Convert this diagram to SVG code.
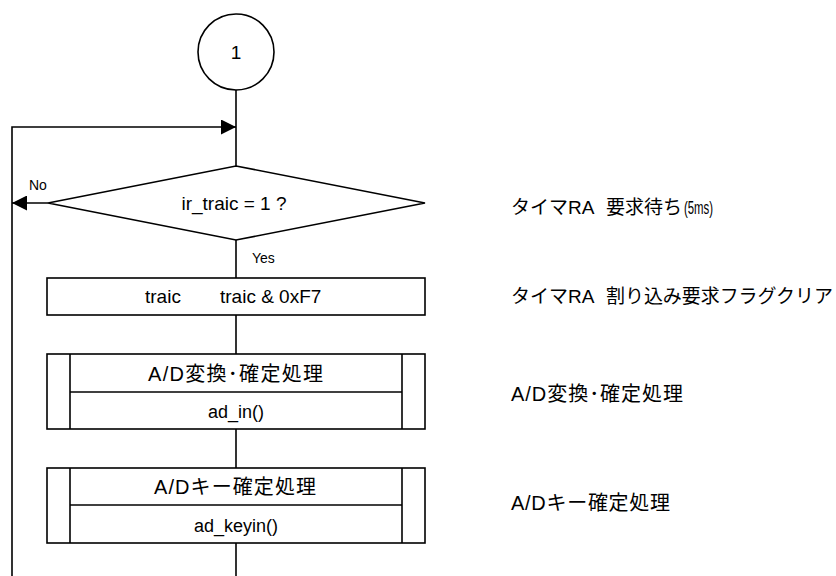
<svg xmlns="http://www.w3.org/2000/svg" width="836" height="576" viewBox="0 0 836 576">
<defs>
<marker id="arr" viewBox="0 0 10 10" refX="10" refY="5" markerWidth="17" markerHeight="15" markerUnits="userSpaceOnUse" orient="auto">
<path d="M0,0 L10,5 L0,10 Z" fill="#000"/>
</marker>
<style>
.s{fill:#fff;stroke:#000;stroke-width:1.6}
.l{fill:none;stroke:#000;stroke-width:1.6}
.t{font-family:"Liberation Sans","Noto Sans CJK JP",sans-serif;font-size:19px;fill:#000}
.c{text-anchor:middle}
.sm{font-size:14px}
.f{font-size:18px}
.j{font-size:20px}
</style>
</defs>
<rect width="836" height="576" fill="#fff"/>
<g id="connectors">
<line class="l" x1="236" y1="90" x2="236" y2="166"/>
<polyline class="l" points="12,576 12,127 236,127" marker-end="url(#arr)"/>
<line class="l" x1="48" y1="203" x2="12" y2="203" marker-end="url(#arr)"/>
<line class="l" x1="236" y1="240" x2="236" y2="278"/>
<line class="l" x1="236" y1="315" x2="236" y2="354"/>
<line class="l" x1="236" y1="429" x2="236" y2="468"/>
<line class="l" x1="236" y1="543" x2="236" y2="576"/>
<text class="t sm" x="29" y="190">No</text>
<text class="t sm" x="252" y="263">Yes</text>
</g>
<g id="start">
<circle class="s" cx="236" cy="52" r="38"/>
<text class="t c" x="236" y="59">1</text>
</g>
<g id="decision">
<polygon class="s" points="236,166 425,203 236,240 48,203"/>
<text class="t c" x="234" y="210">ir_traic = 1 ?</text>
</g>
<g id="clear">
<rect class="s" x="47" y="278" width="378" height="37"/>
<text class="t" x="145" y="303">traic</text>
<text class="t" x="220" y="303">traic &amp; 0xF7</text>
</g>
<g id="adin">
<rect class="s" x="47" y="354" width="378" height="75"/>
<line class="l" x1="70" y1="354" x2="70" y2="429"/>
<line class="l" x1="402" y1="354" x2="402" y2="429"/>
<line class="l" x1="70" y1="392" x2="402" y2="392"/>
<text class="t j" x="148" y="381" textLength="175" lengthAdjust="spacing">A/D変換･確定処理</text>
<text class="t f c" x="236" y="418">ad_in()</text>
</g>
<g id="adkeyin">
<rect class="s" x="47" y="468" width="378" height="75"/>
<line class="l" x1="70" y1="468" x2="70" y2="543"/>
<line class="l" x1="402" y1="468" x2="402" y2="543"/>
<line class="l" x1="70" y1="505" x2="402" y2="505"/>
<text class="t j" x="154" y="494" textLength="162" lengthAdjust="spacing">A/Dキー確定処理</text>
<text class="t f c" x="236" y="532">ad_keyin()</text>
</g>
<g id="notes">
<text class="t" x="511" y="214"><tspan>タイマRA　</tspan><tspan x="606">要求待ち</tspan><tspan x="684" textLength="29" lengthAdjust="spacingAndGlyphs">(5ms)</tspan></text>
<text class="t" x="511" y="303"><tspan>タイマRA　</tspan><tspan x="606" textLength="227" lengthAdjust="spacing">割り込み要求フラグクリア</tspan></text>
<text class="t j" x="511" y="401" textLength="172" lengthAdjust="spacing">A/D変換･確定処理</text>
<text class="t j" x="511" y="510" textLength="159" lengthAdjust="spacing">A/Dキー確定処理</text>
</g>
</svg>
